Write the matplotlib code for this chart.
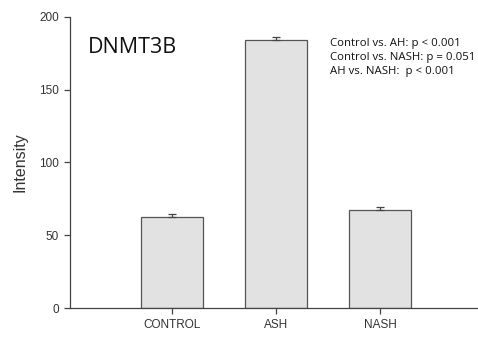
import matplotlib.pyplot as plt

plt.rcParams['font.family'] = ['Liberation Sans', 'DejaVu Sans']

groups = ["CONTROL", "ASH", "NASH"]
intensity = [62.5, 184.5, 67.5]
errors = [2.0, 1.5, 2.0]

fig = plt.figure(figsize=(4.78, 3.39), dpi=100)
ax = fig.add_axes([0.1464, 0.0914, 0.8536, 0.8586])

x = range(len(groups))
# only the upper half of the error bar shows above each bar
ax.bar(x, intensity, width=0.6, color="#e2e2e2", edgecolor="#555555", linewidth=0.9,
       yerr=[[0] * len(errors), errors],
       error_kw=dict(ecolor="#444444", elinewidth=0.9, capsize=3, capthick=0.9))

ax.set_xlim(-0.98, 2.94)
ax.set_ylim(0, 200)
ax.set_yticks([0, 50, 100, 150, 200])
ax.set_xticks(list(x))
ax.set_xticklabels(groups)
ax.set_ylabel("Intensity", fontsize=11.5, color="#333333", labelpad=8)

for s in ["top", "right"]:
    ax.spines[s].set_visible(False)
for s in ["left", "bottom"]:
    ax.spines[s].set_color("#444444")
    ax.spines[s].set_linewidth(0.9)
ax.tick_params(colors="#444444", labelcolor="#333333", labelsize=8.5, length=4.5, width=0.9)

ax.text(-0.81, 179, "DNMT3B", fontsize=15.5, family="Open Sans", va="center", ha="left", color="#111111")
ax.text(1.52, 172, "Control vs. AH: p < 0.001\nControl vs. NASH: p = 0.051\nAH vs. NASH:  p < 0.001",
        fontsize=8.2, family="Open Sans", va="center", ha="left", color="#111111", linespacing=1.35)

fig.savefig("out.png", dpi=100)
